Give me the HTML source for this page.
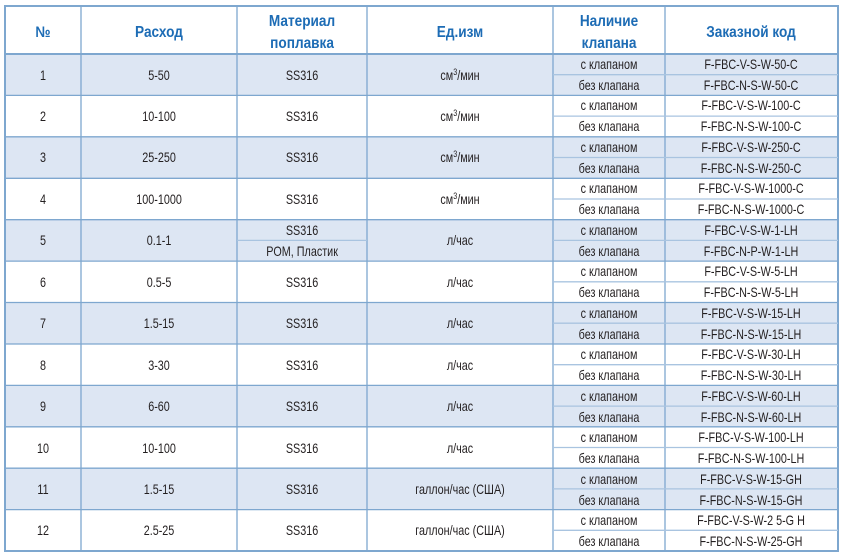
<!DOCTYPE html>
<html><head><meta charset="utf-8"><style>
html,body{margin:0;padding:0;background:#fff;width:844px;height:558px;overflow:hidden}
svg{display:block}
text{font-family:"Liberation Sans",sans-serif;font-size:13.5px;fill:#231f20;text-anchor:middle;transform-box:fill-box;transform-origin:center;transform:scaleX(0.8)}
.h{font-weight:bold;fill:#1d6cb5;font-size:15.5px;transform:scaleX(0.88)}
</style></head><body>
<svg width="844" height="558" viewBox="0 0 844 558">
<g fill="#dde6f3">
<rect x="5" y="54" width="833" height="41.4"/>
<rect x="5" y="136.8" width="833" height="41.4"/>
<rect x="5" y="219.7" width="833" height="41.4"/>
<rect x="5" y="302.5" width="833" height="41.4"/>
<rect x="5" y="385.4" width="833" height="41.4"/>
<rect x="5" y="468.2" width="833" height="41.4"/>
</g>
<g stroke="#7ea7cf" stroke-width="1.3" fill="none">
<rect x="5" y="6" width="833" height="545" stroke-width="2"/>
<line x1="81" y1="6" x2="81" y2="551"/><line x1="237" y1="6" x2="237" y2="551"/>
<line x1="367" y1="6" x2="367" y2="551"/><line x1="553" y1="6" x2="553" y2="551"/>
<line x1="665" y1="6" x2="665" y2="551"/>
<line x1="5" y1="54" x2="838" y2="54" stroke-width="2"/>
<line x1="5" y1="95.4" x2="838" y2="95.4"/><line x1="5" y1="136.8" x2="838" y2="136.8"/>
<line x1="5" y1="178.3" x2="838" y2="178.3"/><line x1="5" y1="219.7" x2="838" y2="219.7"/>
<line x1="5" y1="261.1" x2="838" y2="261.1"/><line x1="5" y1="302.5" x2="838" y2="302.5"/>
<line x1="5" y1="344" x2="838" y2="344"/><line x1="5" y1="385.4" x2="838" y2="385.4"/>
<line x1="5" y1="426.8" x2="838" y2="426.8"/><line x1="5" y1="468.2" x2="838" y2="468.2"/>
<line x1="5" y1="509.6" x2="838" y2="509.6"/>
<g stroke="#a9c4e0">
<line x1="553" y1="74.7" x2="838" y2="74.7"/><line x1="553" y1="116.1" x2="838" y2="116.1"/>
<line x1="553" y1="157.5" x2="838" y2="157.5"/><line x1="553" y1="199" x2="838" y2="199"/>
<line x1="237" y1="240.4" x2="367" y2="240.4"/><line x1="553" y1="240.4" x2="838" y2="240.4"/>
<line x1="553" y1="281.8" x2="838" y2="281.8"/><line x1="553" y1="323.2" x2="838" y2="323.2"/>
<line x1="553" y1="364.7" x2="838" y2="364.7"/><line x1="553" y1="406.1" x2="838" y2="406.1"/>
<line x1="553" y1="447.5" x2="838" y2="447.5"/><line x1="553" y1="488.9" x2="838" y2="488.9"/>
<line x1="553" y1="530.3" x2="838" y2="530.3"/>
</g>
</g>
<text class="h" x="43" y="37">№</text>
<text class="h" x="159" y="37">Расход</text>
<text class="h" x="302" y="26">Материал</text><text class="h" x="302" y="48">поплавка</text>
<text class="h" x="460" y="37">Ед.изм</text>
<text class="h" x="609" y="26">Наличие</text><text class="h" x="609" y="48">клапана</text>
<text class="h" x="751" y="37">Заказной код</text>

<g>
<text x="43" y="80">1</text><text x="159" y="80">5-50</text><text x="302" y="80">SS316</text><text x="460" y="80">см<tspan font-size="9" dy="-5">3</tspan><tspan dy="5">/мин</tspan></text>
<text x="609" y="69">с клапаном</text><text x="609" y="90">без клапана</text>
<text x="751" y="69">F-FBC-V-S-W-50-C</text><text x="751" y="90">F-FBC-N-S-W-50-C</text>

<text x="43" y="121">2</text><text x="159" y="121">10-100</text><text x="302" y="121">SS316</text><text x="460" y="121">см<tspan font-size="9" dy="-5">3</tspan><tspan dy="5">/мин</tspan></text>
<text x="609" y="110">с клапаном</text><text x="609" y="131">без клапана</text>
<text x="751" y="110">F-FBC-V-S-W-100-C</text><text x="751" y="131">F-FBC-N-S-W-100-C</text>

<text x="43" y="162">3</text><text x="159" y="162">25-250</text><text x="302" y="162">SS316</text><text x="460" y="162">см<tspan font-size="9" dy="-5">3</tspan><tspan dy="5">/мин</tspan></text>
<text x="609" y="152">с клапаном</text><text x="609" y="173">без клапана</text>
<text x="751" y="152">F-FBC-V-S-W-250-C</text><text x="751" y="173">F-FBC-N-S-W-250-C</text>

<text x="43" y="204">4</text><text x="159" y="204">100-1000</text><text x="302" y="204">SS316</text><text x="460" y="204">см<tspan font-size="9" dy="-5">3</tspan><tspan dy="5">/мин</tspan></text>
<text x="609" y="193">с клапаном</text><text x="609" y="214">без клапана</text>
<text x="751" y="193">F-FBC-V-S-W-1000-C</text><text x="751" y="214">F-FBC-N-S-W-1000-C</text>

<text x="43" y="245">5</text><text x="159" y="245">0.1-1</text><text x="302" y="235">SS316</text><text x="302" y="256">POM, Пластик</text><text x="460" y="245">л/час</text>
<text x="609" y="235">с клапаном</text><text x="609" y="256">без клапана</text>
<text x="751" y="235">F-FBC-V-S-W-1-LH</text><text x="751" y="256">F-FBC-N-P-W-1-LH</text>

<text x="43" y="287">6</text><text x="159" y="287">0.5-5</text><text x="302" y="287">SS316</text><text x="460" y="287">л/час</text>
<text x="609" y="276">с клапаном</text><text x="609" y="297">без клапана</text>
<text x="751" y="276">F-FBC-V-S-W-5-LH</text><text x="751" y="297">F-FBC-N-S-W-5-LH</text>

<text x="43" y="328">7</text><text x="159" y="328">1.5-15</text><text x="302" y="328">SS316</text><text x="460" y="328">л/час</text>
<text x="609" y="318">с клапаном</text><text x="609" y="339">без клапана</text>
<text x="751" y="318">F-FBC-V-S-W-15-LH</text><text x="751" y="339">F-FBC-N-S-W-15-LH</text>

<text x="43" y="370">8</text><text x="159" y="370">3-30</text><text x="302" y="370">SS316</text><text x="460" y="370">л/час</text>
<text x="609" y="359">с клапаном</text><text x="609" y="380">без клапана</text>
<text x="751" y="359">F-FBC-V-S-W-30-LH</text><text x="751" y="380">F-FBC-N-S-W-30-LH</text>

<text x="43" y="411">9</text><text x="159" y="411">6-60</text><text x="302" y="411">SS316</text><text x="460" y="411">л/час</text>
<text x="609" y="401">с клапаном</text><text x="609" y="422">без клапана</text>
<text x="751" y="401">F-FBC-V-S-W-60-LH</text><text x="751" y="422">F-FBC-N-S-W-60-LH</text>

<text x="43" y="453">10</text><text x="159" y="453">10-100</text><text x="302" y="453">SS316</text><text x="460" y="453">л/час</text>
<text x="609" y="442">с клапаном</text><text x="609" y="463">без клапана</text>
<text x="751" y="442">F-FBC-V-S-W-100-LH</text><text x="751" y="463">F-FBC-N-S-W-100-LH</text>

<text x="43" y="494">11</text><text x="159" y="494">1.5-15</text><text x="302" y="494">SS316</text><text x="460" y="494">галлон/час (США)</text>
<text x="609" y="484">с клапаном</text><text x="609" y="505">без клапана</text>
<text x="751" y="484">F-FBC-V-S-W-15-GH</text><text x="751" y="505">F-FBC-N-S-W-15-GH</text>

<text x="43" y="535">12</text><text x="159" y="535">2.5-25</text><text x="302" y="535">SS316</text><text x="460" y="535">галлон/час (США)</text>
<text x="609" y="525">с клапаном</text><text x="609" y="546">без клапана</text>
<text x="751" y="525">F-FBC-V-S-W-2 5-G H</text><text x="751" y="546">F-FBC-N-S-W-25-GH</text>
</g>
</svg>
</body></html>
